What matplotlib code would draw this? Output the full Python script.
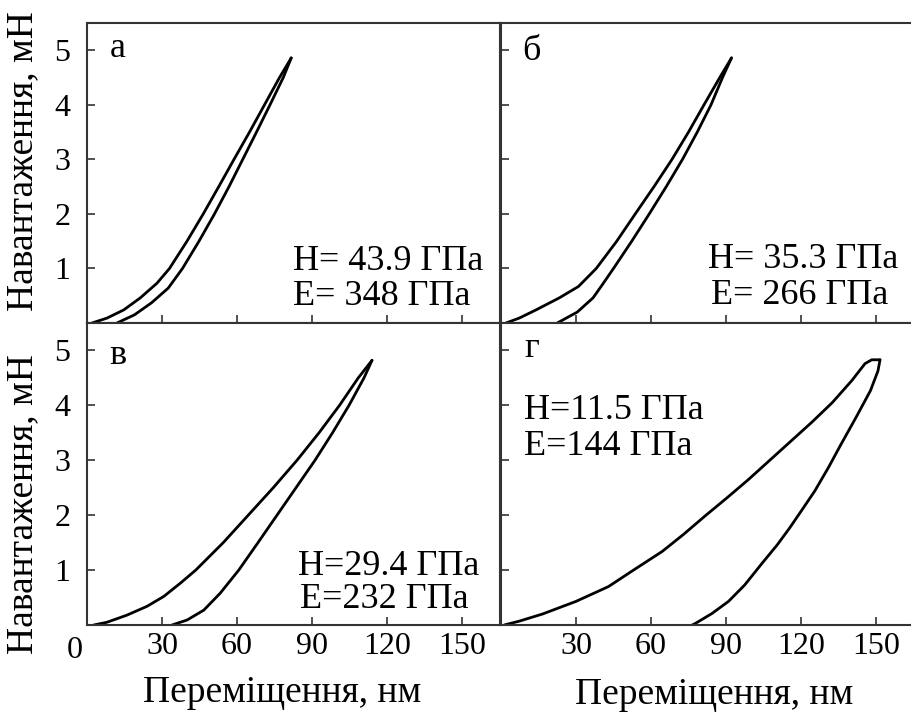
import matplotlib
matplotlib.use("Agg")
import matplotlib.pyplot as plt

plt.rcParams['font.family'] = ['Liberation Serif', 'DejaVu Serif']

# ---- data (displacement, nm ; load, mN) ----
a_load_x = [2, 8, 14.7, 21.3, 28, 33, 40, 46.5, 52.7, 58.8, 65, 71, 77, 81.7]
a_load_y = [0, 0.09, 0.24, 0.46, 0.73, 1.0, 1.5, 2.0, 2.5, 3.0, 3.5, 4.0, 4.5, 4.86]
a_unl_x = [81.7, 78.5, 73.2, 67.8, 62.3, 56.8, 51, 44.8, 38.2, 32.5, 25.8, 19, 12]
a_unl_y = [4.86, 4.5, 4.0, 3.5, 3.0, 2.5, 2.0, 1.5, 1.0, 0.64, 0.37, 0.15, 0]

b_load_x = [2, 7.3, 14, 23.3, 31, 38.1, 46.3, 53.7, 61.2, 68.4, 75, 81.2, 87.5, 92.2]
b_load_y = [0, 0.09, 0.24, 0.46, 0.67, 1.0, 1.5, 2.0, 2.5, 3.0, 3.5, 4.0, 4.5, 4.86]
b_unl_x = [92.2, 88.6, 84, 78.5, 72.6, 66.1, 59.3, 52.3, 45, 40.5, 36.8, 30.5, 22.5]
b_unl_y = [4.86, 4.5, 4.0, 3.5, 3.0, 2.5, 2.0, 1.5, 1.0, 0.7, 0.46, 0.2, 0]

v_load_x = [2.7, 8, 16, 24, 30.7, 37.3, 43.5, 54.5, 64.5, 74.5, 84, 92.8, 101, 108.5, 114]
v_load_y = [0, 0.05, 0.18, 0.34, 0.52, 0.76, 1.0, 1.5, 2.0, 2.5, 3.0, 3.5, 4.0, 4.5, 4.82]
v_unl_x = [114, 110.8, 104.8, 98.2, 91.2, 83.6, 76, 68.4, 60.7, 53.3, 46.7, 40, 34]
v_unl_y = [4.82, 4.5, 4.0, 3.5, 3.0, 2.5, 2.0, 1.5, 1.0, 0.58, 0.27, 0.09, 0]

g_load_x = [1.3, 7.3, 16.6, 30, 43, 53, 64.5, 73, 82, 90.5, 99, 107.5, 116, 124.5,
            132.5, 140.3, 145.6, 148.3, 151.6]
g_load_y = [0, 0.07, 0.2, 0.43, 0.7, 1.0, 1.34, 1.65, 2.0, 2.32, 2.65, 3.0, 3.35, 3.7,
            4.05, 4.45, 4.76, 4.83, 4.83]
g_unl_x = [151.6, 150.8, 147.8, 142, 136, 131, 125.5, 120, 115.5, 110.5, 104, 97.5,
           91, 84.4, 77.8, 76.5]
g_unl_y = [4.83, 4.63, 4.27, 3.78, 3.29, 2.87, 2.44, 2.07, 1.77, 1.46, 1.1, 0.73,
           0.43, 0.21, 0.03, 0]

panel_letters = ['а', 'б', 'в', 'г']
hardness = ['H= 43.9 ГПа', 'H= 35.3 ГПа', 'H=29.4 ГПа', 'H=11.5 ГПа']
modulus = ['E= 348 ГПа', 'E= 266 ГПа', 'E=232 ГПа', 'E=144 ГПа']
xticks = [30, 60, 90, 120, 150]
yticks = [1, 2, 3, 4, 5]
ylabel = 'Навантаження, мН'
xlabel = 'Переміщення, нм'

W, H = 911, 715
fig = plt.figure(figsize=(W / 100, H / 100), dpi=100)

def frac(x0, y_top, w, h):
    return [x0 / W, (H - y_top - h) / H, w / W, h / H]

ax_a = fig.add_axes(frac(87, 23, 412.5, 300))
ax_b = fig.add_axes(frac(501, 23, 412.5, 300))
ax_v = fig.add_axes(frac(87, 323, 412.5, 302))
ax_g = fig.add_axes(frac(501, 323, 412.5, 302))

data = [
    (ax_a, a_load_x, a_load_y, a_unl_x, a_unl_y),
    (ax_b, b_load_x, b_load_y, b_unl_x, b_unl_y),
    (ax_v, v_load_x, v_load_y, v_unl_x, v_unl_y),
    (ax_g, g_load_x, g_load_y, g_unl_x, g_unl_y),
]

letter_pos = [(9, 4.88), (8.4, 4.83), (9, 4.75), (9.5, 4.88)]
h_pos = [(82.5, 0.97), (83, 1.0), (84.5, 0.91), (9.2, 3.75)]
e_pos = [(82.5, 0.33), (84, 0.35), (85, 0.31), (9.2, 3.1)]

for i, (ax, lx, ly, ux, uy) in enumerate(data):
    ax.plot(lx, ly, color='black', lw=2.0, solid_capstyle='round', solid_joinstyle='round')
    ax.plot(ux, uy, color='black', lw=2.0, solid_capstyle='round', solid_joinstyle='round')
    ax.set_xlim(0, 165)
    ax.set_ylim(0, 5.5)
    ax.set_xticks(xticks)
    ax.set_yticks(yticks)
    ax.tick_params(direction='in', length=6, width=1.2, color='#333333',
                   labelsize=23, pad=12)
    ax.tick_params(axis='x', pad=5)
    for sp in ax.spines.values():
        sp.set_color('#333333')
        sp.set_linewidth(1.5)
    ax.text(*letter_pos[i], panel_letters[i], fontsize=26, va='baseline')
    ax.text(*h_pos[i], hardness[i], fontsize=26, va='baseline')
    ax.text(*e_pos[i], modulus[i], fontsize=26, va='baseline')

for ax in (ax_a, ax_b):
    ax.tick_params(axis='x', labelbottom=False)
for ax in (ax_b, ax_g):
    ax.tick_params(axis='y', labelleft=False)

for ax, yc in ((ax_a, 0.54), (ax_v, 0.40)):
    ax.set_ylabel(ylabel, fontsize=27)
    ax.yaxis.set_label_coords(-0.114, yc)

ax_v.set_xlabel(xlabel, fontsize=27)
ax_v.xaxis.set_label_coords(0.473, -0.167)
ax_g.set_xlabel(xlabel, fontsize=27)
ax_g.xaxis.set_label_coords(0.516, -0.173)

ax_v.annotate('0', xy=(0, 0), xytext=(-3, -8), textcoords='offset points',
              ha='right', va='top', fontsize=23)

fig.savefig('out.png', dpi=100)
